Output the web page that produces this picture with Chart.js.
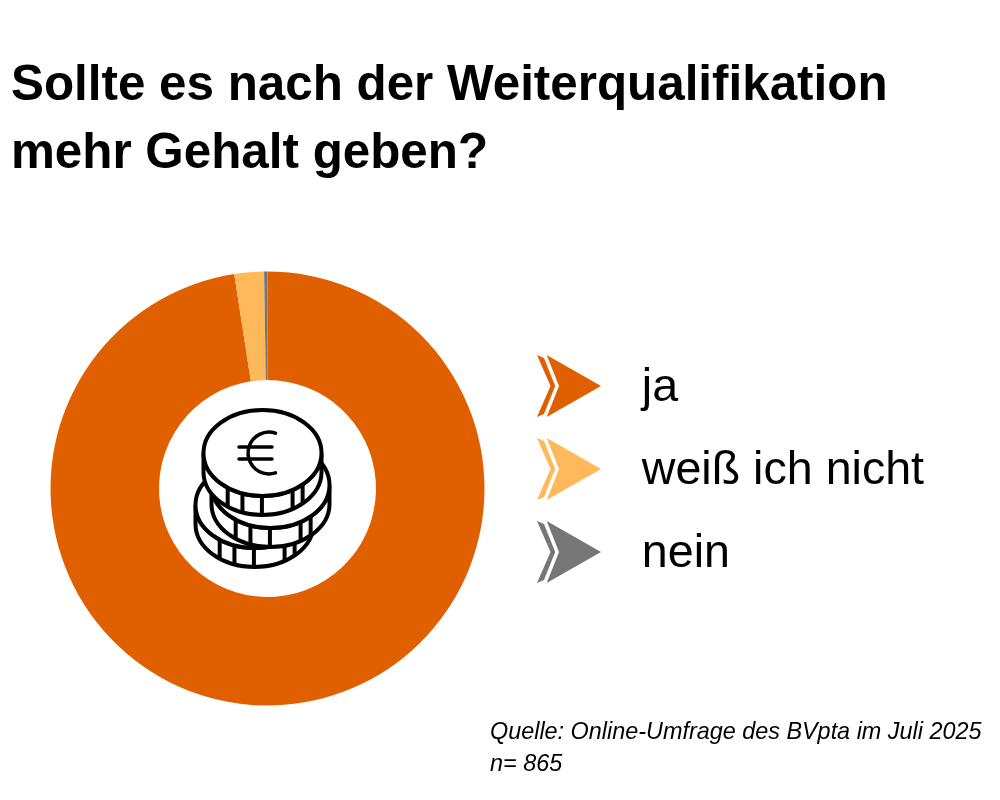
<!DOCTYPE html>
<html lang="de">
<head>
<meta charset="utf-8">
<title>Weiterqualifikation</title>
<script src="https://cdn.jsdelivr.net/npm/chart.js@4"></script>
<style>
  html, body { margin: 0; padding: 0; background: #fff; }
  canvas { display: block; }
</style>
</head>
<body>
<canvas id="chart" width="1000" height="800"></canvas>
<script>
const categories = ["ja", "weiß ich nicht", "nein"];
const shares = [97.55, 2.2, 0.25];
const colors = ["#E06000", "#FFB95A", "#767676"];
const titleLines = ["Sollte es nach der Weiterqualifikation", "mehr Gehalt geben?"];
const noteLines = ["Quelle: Online-Umfrage des BVpta im Juli 2025", "n= 865"];

const FONT = "'Liberation Sans', Arial, sans-serif";

// double arrow used as legend marker, sits 2px above the label's middle
function makeMarker(color) {
  const c = document.createElement("canvas");
  c.width = 66;
  c.height = 68;
  const ctx = c.getContext("2d");
  ctx.fillStyle = color;
  ctx.beginPath();
  ctx.moveTo(10.7, 1);
  ctx.lineTo(65, 32);
  ctx.lineTo(10.7, 63);
  ctx.lineTo(23, 32);
  ctx.closePath();
  ctx.fill();
  ctx.beginPath();
  ctx.moveTo(1, 1);
  ctx.lineTo(8, 4);
  ctx.lineTo(19.2, 32);
  ctx.lineTo(8, 60);
  ctx.lineTo(1, 63);
  ctx.lineTo(14.5, 32);
  ctx.closePath();
  ctx.fill();
  return c;
}

function drawCoin(ctx, cx, cy) {
  const rx = 59, ry = 43, rim = 19;
  ctx.fillStyle = "#fff";
  ctx.beginPath();
  ctx.ellipse(cx, cy + rim, rx, ry, 0, 0, Math.PI);
  ctx.lineTo(cx - rx, cy);
  ctx.ellipse(cx, cy, rx, ry, 0, Math.PI, 0, true);
  ctx.closePath();
  ctx.fill();
  ctx.stroke();
  [-0.59, -0.34, -0.01, 0.51, 0.68].forEach((k) => {
    const x = cx + k * rx;
    const y = cy + ry * Math.sqrt(1 - k * k);
    ctx.beginPath();
    ctx.moveTo(x, y);
    ctx.lineTo(x, y + rim);
    ctx.stroke();
  });
  ctx.beginPath();
  ctx.ellipse(cx, cy, rx, ry, 0, 0, Math.PI * 2);
  ctx.fill();
  ctx.stroke();
}

const coinIcon = {
  id: "coinIcon",
  afterDraw(chart) {
    const ctx = chart.ctx;
    ctx.save();
    ctx.strokeStyle = "#000";
    ctx.lineWidth = 4;
    drawCoin(ctx, 254.5, 505);
    drawCoin(ctx, 270.5, 485);
    drawCoin(ctx, 262.5, 453);
    // euro sign
    ctx.lineWidth = 3.5;
    ctx.lineCap = "round";
    ctx.beginPath();
    ctx.arc(269, 453, 20.9, -0.4 * Math.PI, 0.4 * Math.PI, true);
    ctx.moveTo(239, 447);
    ctx.lineTo(272, 447);
    ctx.moveTo(239, 459);
    ctx.lineTo(272, 459);
    ctx.stroke();
    ctx.restore();
  },
};

// title, note and legend sit at fixed places on the page
const placeBoxes = {
  id: "placeBoxes",
  afterLayout(chart) {
    const title = chart.titleBlock;
    title.left = 11;
    title.right = 1000;
    const note = chart.boxes.find((b) => b.options && b.options.text === noteLines);
    note.left = 490;
    note.right = 1000;
    const legend = chart.legend;
    legend.left = 483.1;
    legend.right = 1000;
    legend.top = 388 - 23.3 - 36.4;
    legend.bottom = 800;
  },
};

new Chart(document.getElementById("chart"), {
  type: "doughnut",
  data: {
    labels: categories,
    datasets: [
      {
        data: shares,
        backgroundColor: colors,
        borderWidth: 0,
      },
    ],
  },
  options: {
    responsive: false,
    animation: false,
    cutout: "50%",
    layout: { padding: { left: 50.5, right: 515.5, top: 52, bottom: 19.5 } },
    plugins: {
      tooltip: { enabled: false },
      title: {
        display: true,
        text: titleLines,
        align: "start",
        color: "#000",
        padding: { top: 0, bottom: 83.5 },
        font: { family: FONT, size: 49.35, weight: "bold", lineHeight: "68px" },
      },
      subtitle: {
        display: true,
        text: noteLines,
        position: "bottom",
        align: "start",
        color: "#000",
        padding: { top: 11, bottom: 0 },
        font: { family: FONT, size: 23.4, style: "italic", weight: "normal", lineHeight: "32px" },
      },
      legend: {
        position: "chartArea",
        align: "start",
        labels: {
          color: "#000",
          padding: 36.4,
          usePointStyle: true,
          pointStyleWidth: 99,
          font: { family: FONT, size: 46.6 },
          generateLabels(chart) {
            return Chart.overrides.doughnut.plugins.legend.labels
              .generateLabels(chart)
              .map((item, i) => ({ ...item, pointStyle: makeMarker(colors[i]) }));
          },
        },
      },
    },
  },
  plugins: [placeBoxes, coinIcon],
});
</script>
</body>
</html>
